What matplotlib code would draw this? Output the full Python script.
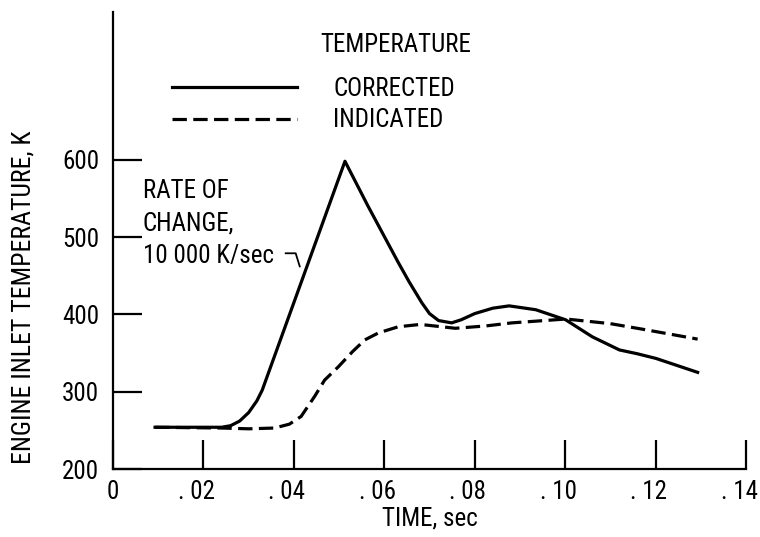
import matplotlib
matplotlib.use("Agg")
import matplotlib.pyplot as plt
from matplotlib.transforms import ScaledTranslation

plt.rcParams['font.family'] = ['Roboto Condensed', 'DejaVu Sans']

# time, sec
t_corr = [0.0093, 0.0240, 0.0260, 0.0280, 0.0300, 0.0318, 0.0330, 0.0513, 0.0564,
          0.0631, 0.0655, 0.0683, 0.0700, 0.0720, 0.0749, 0.0770, 0.0800, 0.0840,
          0.0876, 0.0935, 0.1001, 0.1060, 0.1120, 0.1160, 0.1201, 0.1293]
T_corr = [254, 254, 256, 262, 273, 288, 302, 598, 540, 467, 442, 415, 401, 392,
          389, 393, 401, 408, 411, 406, 393, 371, 354, 349, 343, 325]

t_ind = [0.0093, 0.0240, 0.0300, 0.0357, 0.0390, 0.0416, 0.0446, 0.0468, 0.0498,
         0.0530, 0.0557, 0.0587, 0.0631, 0.0680, 0.0757, 0.0824, 0.0882, 0.1002,
         0.1100, 0.1179, 0.1293]
T_ind = [254, 253, 252, 253, 258, 268, 294, 315, 332, 352, 367, 376, 384, 387,
         382, 385, 389, 394, 388, 380, 368]

xticks = [0, 0.02, 0.04, 0.06, 0.08, 0.10, 0.12, 0.14]
xticklabels = ['0', '. 02', '. 04', '. 06', '. 08', '. 10', '. 12', '. 14']
yticks = [200, 300, 400, 500, 600]

fig = plt.figure(figsize=(7.6, 5.37), dpi=100)
ax = fig.add_axes([0.1487, 0.1266, 0.8329, 0.851])

ax.plot(t_corr, T_corr, color='black', lw=2.3, label='CORRECTED')
ax.plot(t_ind, T_ind, color='black', lw=2.3, linestyle=(0, (4.5, 2)),
        label='INDICATED')

ax.set_xlim(0, 0.14)
ax.set_ylim(200, 791)
ax.set_xticks(xticks)
ax.set_xticklabels(xticklabels)
ax.set_yticks(yticks)

for s in ['top', 'right']:
    ax.spines[s].set_visible(False)
for s in ['left', 'bottom']:
    ax.spines[s].set_linewidth(1.6)

ax.tick_params(direction='in', length=21, width=1.6, labelsize=18)
ax.tick_params(axis='x', pad=8)
ax.tick_params(axis='y', pad=10)

# dots hang to the left of the digits, as in the original lettering
shift = ScaledTranslation(-5 / 72, 0, fig.dpi_scale_trans)
for lab in ax.get_xticklabels()[1:]:
    lab.set_transform(lab.get_transform() + shift)

ax.set_xlabel('TIME, sec', fontsize=18, labelpad=2)
ax.set_ylabel('ENGINE INLET TEMPERATURE, K', fontsize=18.5)
ax.yaxis.set_label_coords(-0.123, 0.376)

leg = ax.legend(loc='upper left', bbox_to_anchor=(0.093, 0.858), frameon=False,
                fontsize=18, handlelength=5.0, handletextpad=1.45,
                labelspacing=0.3, borderpad=0, borderaxespad=0)
ax.text(0.327, 0.955, 'TEMPERATURE', transform=ax.transAxes, fontsize=18,
        va='top', ha='left')

ax.text(0.047, 0.634, 'RATE OF\nCHANGE,\n10 000 K/sec', transform=ax.transAxes,
        fontsize=18, va='top', ha='left', linespacing=1.45)
# leader to the rising slope
ax.plot([0.0382, 0.0404, 0.0413], [479, 479, 462], color='black', lw=1.3)

fig.savefig('out.png', dpi=100)
